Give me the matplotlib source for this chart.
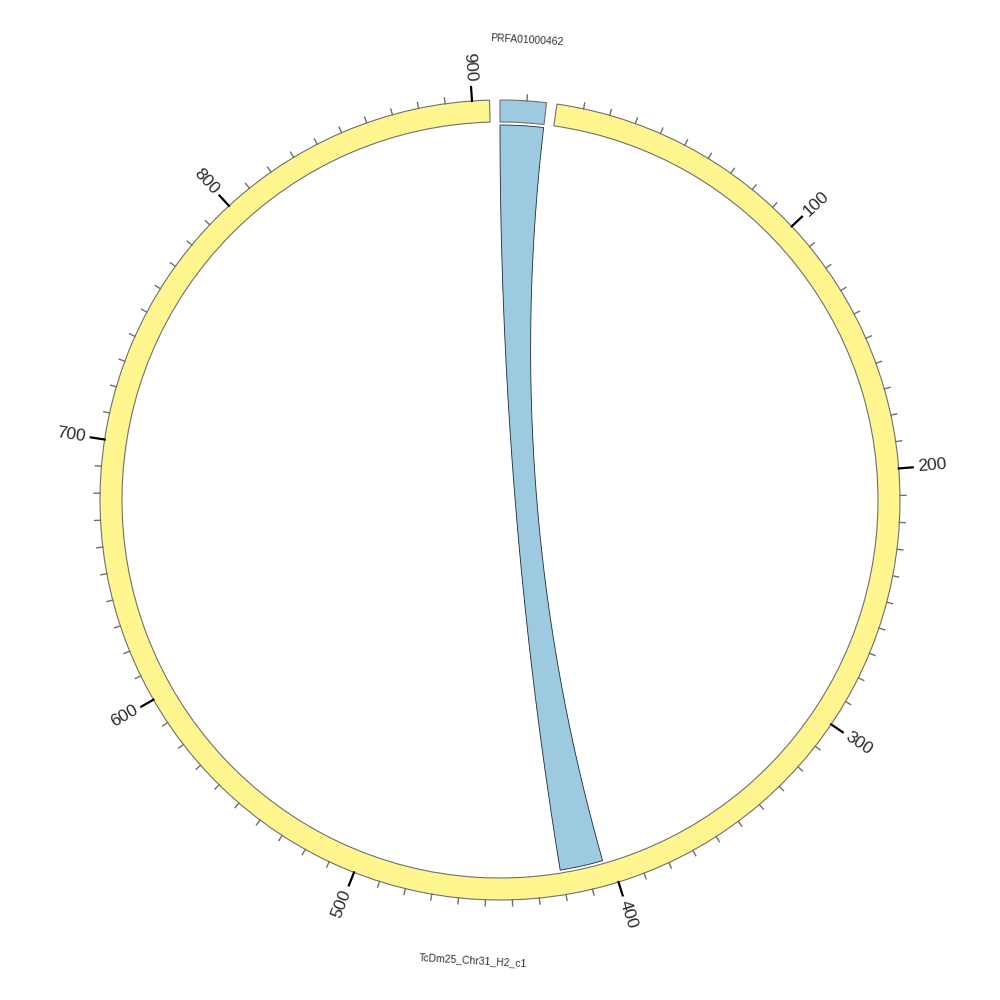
import numpy as np
import matplotlib.pyplot as plt

# sectors (kb)
names = ["PRFA01000462", "TcDm25_Chr31_H2_c1"]
sizes = [17.3, 906.5]
colors = ["#9ecae1", "#fff68f"]

# one link between the contig and the chromosome
link_a = ("PRFA01000462", 0, 17.3)
link_b = ("TcDm25_Chr31_H2_c1", 403.5, 420.7)

major_step = 100
minor_step = 10

space = 1.5  # degrees between sectors
r_out, r_in, r_link = 400, 378, 375

plt.rcParams['font.family'] = ['Liberation Sans', 'DejaVu Sans']
fig = plt.figure(figsize=(10, 10), dpi=100)
ax = fig.add_axes([0, 0, 1, 1], projection='polar')
ax.set_theta_zero_location('N')
ax.set_theta_direction(-1)
ax.set_rlim(0, 500)
ax.axis('off')

scale = (360 - space * len(sizes)) / sum(sizes)
starts = {}
pos = 0
for name, size in zip(names, sizes):
    starts[name] = pos
    pos += size * scale + space


def to_deg(name, x):
    return starts[name] + x * scale


# sector tracks
for name, size, col in zip(names, sizes, colors):
    d0, d1 = to_deg(name, 0), to_deg(name, size)
    ax.bar(np.deg2rad((d0 + d1) / 2), r_out - r_in, width=np.deg2rad(d1 - d0),
           bottom=r_in, color=col, edgecolor='#707070', linewidth=0.8)

    # ticks
    for x in np.arange(minor_step, size, minor_step):
        th = np.deg2rad(to_deg(name, x))
        if round(x) % major_step == 0:
            ax.plot([th, th], [r_out, r_out + 14], color='black', lw=1.6)
            deg = to_deg(name, x)
            if deg <= 180:
                rot, ha = 90 - deg, 'left'
            else:
                rot, ha = 270 - deg, 'right'
            ax.text(th, r_out + 19, str(int(round(x))), rotation=rot, ha=ha,
                    va='center', rotation_mode='anchor', fontsize=12.5,
                    color='#2a2a2a')
        else:
            ax.plot([th, th], [r_out, r_out + 6], color='#707070', lw=1.0)

    # sector label
    mid = (d0 + d1) / 2
    rot = -mid if (mid < 90 or mid > 270) else 180 - mid
    ax.text(np.deg2rad(mid), 461, name, rotation=rot, ha='center', va='center',
            rotation_mode='anchor', fontsize=7.5, color='#333333')


# link ribbon: arcs on both ends joined by quadratic beziers through the centre
def xy(deg, r):
    t = np.deg2rad(deg)
    return np.array([r * np.sin(t), r * np.cos(t)])


def arc(d0, d1, n=40):
    return np.array([xy(d, r_link) for d in np.linspace(d0, d1, n)])


def bezier(p0, p2, n=120):
    t = np.linspace(0, 1, n)[:, None]
    return (1 - t) ** 2 * p0 + t ** 2 * p2  # control point at origin


a0, a1 = to_deg(link_a[0], link_a[1]), to_deg(link_a[0], link_a[2])
b0, b1 = to_deg(link_b[0], link_b[1]), to_deg(link_b[0], link_b[2])
pts = np.vstack([
    arc(a0, a1),
    bezier(xy(a1, r_link), xy(b0, r_link)),
    arc(b0, b1),
    bezier(xy(b1, r_link), xy(a0, r_link)),
])
theta = np.arctan2(pts[:, 0], pts[:, 1])
rr = np.hypot(pts[:, 0], pts[:, 1])
ax.fill(theta, rr, facecolor=colors[0], edgecolor='#1a2a3a', linewidth=0.6)

fig.savefig('out.png', dpi=100)
